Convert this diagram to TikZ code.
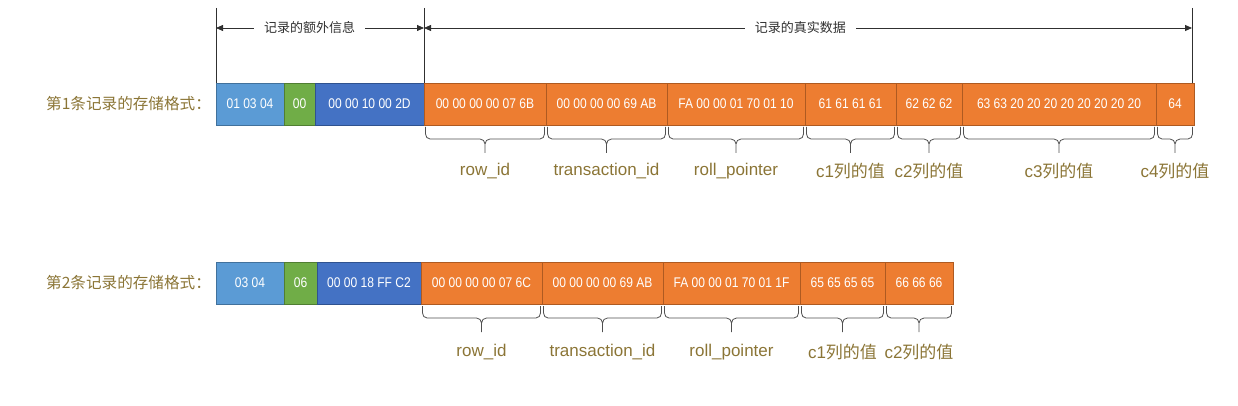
\documentclass[tikz,border=0pt]{standalone}
\usepackage{fontspec}
\setmainfont{Liberation Sans}
\newfontfamily\cjk{Noto Sans CJK SC}
\newfontfamily\hexfont[FakeStretch=0.86]{Liberation Sans}
\usetikzlibrary{arrows.meta,calc}

\definecolor{lblue}{HTML}{5B9BD5}
\definecolor{lblueD}{HTML}{41719C}
\definecolor{green}{HTML}{70AD47}
\definecolor{greenD}{HTML}{507E32}
\definecolor{dblue}{HTML}{4472C4}
\definecolor{dblueD}{HTML}{2F528F}
\definecolor{orng}{HTML}{ED7D31}
\definecolor{orngD}{HTML}{AE5A21}
\definecolor{gold}{HTML}{8B7536}
\definecolor{ink}{HTML}{303030}
\definecolor{brcol}{HTML}{505050}

\tikzset{
  hexbox/.style={draw, line width=0.8pt, minimum height=42pt, inner sep=0pt,
    outer sep=0pt, anchor=west, text=white,
    font=\hexfont\fontsize{14}{14}\selectfont},
  lbbox/.style={hexbox, fill=lblue, draw=lblueD},
  grbox/.style={hexbox, fill=green, draw=greenD},
  dbbox/.style={hexbox, fill=dblue, draw=dblueD},
  orbox/.style={hexbox, fill=orng, draw=orngD},
  fieldlbl/.style={text=gold, font=\fontsize{17}{17}\selectfont, inner sep=0pt},
  rowlbl/.style={text=gold, font=\cjk\fontsize{15.6}{15.6}\selectfont, anchor=west, inner sep=0pt},
  dimline/.style={line width=0.8pt, draw=ink},
  dimarrow/.style={dimline, {Triangle[length=7pt,width=6pt]}-{Triangle[length=7pt,width=6pt]}},
  dimlbl/.style={fill=white, text=ink, font=\cjk\fontsize{13}{13}\selectfont, inner xsep=10pt},
  brc/.style={line width=0.8pt, draw=brcol},
}

% #1 label drop, #2 box node, #3 label name, #4 text
\newcommand\fieldbrace[4][46pt]{%
  \draw[brc] let \p1=(#2.south west), \p2=(#2.south east),
      \p3=($(#2.south west)!0.5!(#2.south east)$) in
    (\x1+1.5pt,\y1-2pt) -- (\x1+1.5pt,\y1-9pt)
      to[out=-90,in=180] (\x1+6pt,\y1-14pt) -- (\x3-5pt,\y1-14pt)
      to[out=0,in=90] (\x3,\y1-19pt) -- (\x3,\y1-28pt)
    (\x3,\y1-19pt) to[out=90,in=180] (\x3+5pt,\y1-14pt) -- (\x2-6pt,\y1-14pt)
      to[out=0,in=-90] (\x2-1.5pt,\y1-9pt) -- (\x2-1.5pt,\y1-2pt);
  \node[fieldlbl] (#3) at ($(#2.south)+(0,-#1)$) {#4};
}

\begin{document}
\begin{tikzpicture}[x=1pt,y=-1pt]
\useasboundingbox (0,0) rectangle (1238,406);

% ---------- record 1 ----------
\node[rowlbl] (r1lbl) at (46,104) {第1条记录的存储格式：};
\node[lbbox, minimum width=68pt]  (a1)  at (216,104) {01 03 04};
\node[grbox, minimum width=31pt]  (a2)  at (a1.east) {00};
\node[dbbox, minimum width=109pt] (a3)  at (a2.east) {00 00 10 00 2D};
\node[orbox, minimum width=122pt] (a4)  at (a3.east) {00 00 00 00 07 6B};
\node[orbox, minimum width=121pt] (a5)  at (a4.east) {00 00 00 00 69 AB};
\node[orbox, minimum width=138pt] (a6)  at (a5.east) {FA 00 00 01 70 01 10};
\node[orbox, minimum width=91pt]  (a7)  at (a6.east) {61 61 61 61};
\node[orbox, minimum width=66pt]  (a8)  at (a7.east) {62 62 62};
\node[orbox, minimum width=194pt] (a9)  at (a8.east) {63 63 20 20 20 20 20 20 20 20};
\node[orbox, minimum width=38pt]  (a10) at (a9.east) {64};

% dimension lines on top
\coordinate (v1t) at (216,8);
\coordinate (v2t) at (424,8);
\coordinate (v3t) at (1192,8);
\coordinate (v3b) at (1192,83);
\coordinate (h1) at (216,28);
\coordinate (h2) at (424,28);
\coordinate (h3) at (1192,28);
\draw[dimline] (v1t) -- (a1.north west);
\draw[dimline] (v2t) -- (a4.north west);
\draw[dimline] (v3t) -- (v3b);
\draw[dimarrow] (h1) -- node[dimlbl, pos=0.45] (extra) {记录的额外信息} (h2);
\draw[dimarrow] (h2) -- node[dimlbl, pos=0.49] (real) {记录的真实数据} (h3);

\fieldbrace{a4}{l1}{row\_id}
\fieldbrace{a5}{l2}{transaction\_id}
\fieldbrace{a6}{l3}{roll\_pointer}
\fieldbrace{a7}{l4}{c1{\cjk 列的值}}
\fieldbrace{a8}{l5}{c2{\cjk 列的值}}
\fieldbrace{a9}{l6}{c3{\cjk 列的值}}
\fieldbrace{a10}{l7}{c4{\cjk 列的值}}

% ---------- record 2 ----------
\node[rowlbl] (r2lbl) at (46,283) {第2条记录的存储格式：};
\node[lbbox, minimum width=68pt]  (b1) at (216,283) {03 04};
\node[grbox, minimum width=33pt]  (b2) at (b1.east) {06};
\node[dbbox, minimum width=104pt] (b3) at (b2.east) {00 00 18 FF C2};
\node[orbox, minimum width=121pt] (b4) at (b3.east) {00 00 00 00 07 6C};
\node[orbox, minimum width=121pt] (b5) at (b4.east) {00 00 00 00 69 AB};
\node[orbox, minimum width=137pt] (b6) at (b5.east) {FA 00 00 01 70 01 1F};
\node[orbox, minimum width=85pt]  (b7) at (b6.east) {65 65 65 65};
\node[orbox, minimum width=68pt]  (b8) at (b7.east) {66 66 66};

\fieldbrace[48pt]{b4}{m1}{row\_id}
\fieldbrace[48pt]{b5}{m2}{transaction\_id}
\fieldbrace[48pt]{b6}{m3}{roll\_pointer}
\fieldbrace[48pt]{b7}{m4}{c1{\cjk 列的值}}
\fieldbrace[48pt]{b8}{m5}{c2{\cjk 列的值}}
\end{tikzpicture}
\end{document}
